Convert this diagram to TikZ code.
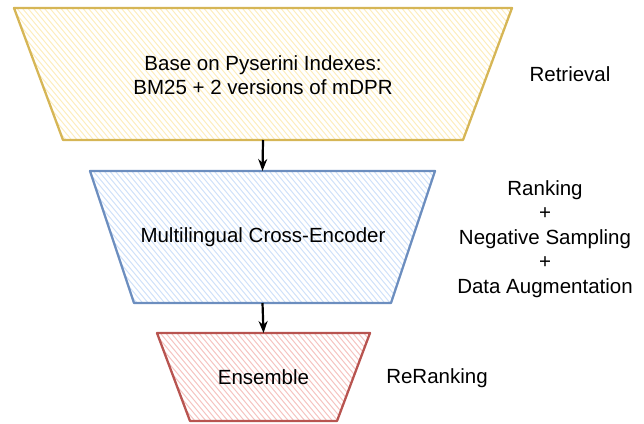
\documentclass[tikz,border=0pt]{standalone}
\usepackage{fontspec}
\setmainfont{Liberation Sans}
\usetikzlibrary{arrows.meta}

\definecolor{retline}{HTML}{D6B656}
\definecolor{retfill}{HTML}{FDEDBD}
\definecolor{rankline}{HTML}{6C8EBF}
\definecolor{rankfill}{HTML}{CFE1F9}
\definecolor{rerankline}{HTML}{B85450}
\definecolor{rerankfill}{HTML}{F5C3C0}

\tikzset{every picture/.style={line width=1.5pt}}
\tikzset{hatchline/.style={line width=1pt}}
\tikzset{flow/.style={-{Stealth[length=12pt,width=9pt]}, black, line width=2.2pt}}
\newcommand{\lbl}{\fontsize{20.5}{24.5}\selectfont}
% name, centre x, top y, bottom y, half top width, half bottom width, colour prefix
\newcommand{\stage}[7]{
  \begin{scope}
    \clip (#2-#5,#3) -- (#2+#5,#3) -- (#2+#6,#4) -- (#2-#6,#4) -- cycle;
    \foreach \x in {-380,-374.5,...,260}
      \draw[hatchline, #7fill] (#2+\x,#3-2) -- ++(130,156);
  \end{scope}
  \draw[#7line, line width=2.3pt, line join=round] (#2-#5,#3) -- (#2+#5,#3) -- (#2+#6,#4) -- (#2-#6,#4) -- cycle;
  \coordinate (#1-n) at (#2,#3);
  \coordinate (#1-s) at (#2,#4);
}

\begin{document}
\begin{tikzpicture}[x=1pt,y=-1pt,font=\lbl]
        \useasboundingbox (0,0) rectangle (644,423);
        \stage{retr}{263}{8}{140}{249}{200}{ret}
        \stage{xenc}{262.5}{171}{303}{172.5}{128.5}{rank}
        \stage{ens}{263.5}{333}{421}{106.5}{73.5}{rerank}
        \node[align=center] (retrtext) at (263,75) {Base on Pyserini Indexes:\\BM25 + 2 versions of mDPR};
        \node (xenctext) at (263,237) {Multilingual Cross-Encoder};
        \node (enstext) at (263.5,377.5) {Ensemble};
        \draw[flow] (retr-s) -- (xenc-n);
        \draw[flow] (xenc-s) -- (ens-n);
        \node (retrtag) at (570,74) {Retrieval};
        \node[align=center] (ranktag) at (545,239) {Ranking\\+\\Negative Sampling\\+\\Data Augmentation};
        \node (reranktag) at (437,378) {ReRanking};
    \end{tikzpicture}
\end{document}
